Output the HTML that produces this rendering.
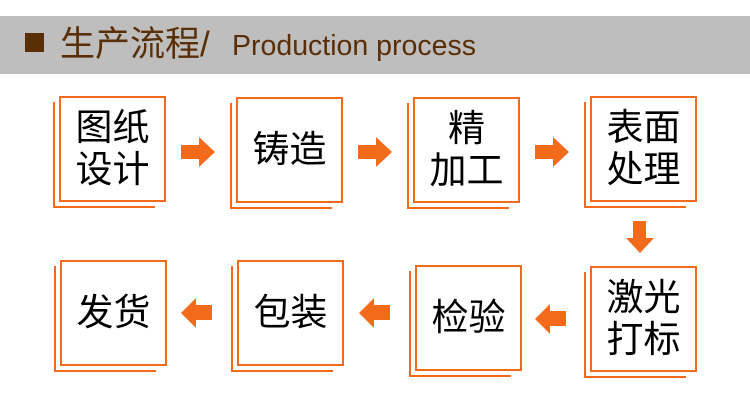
<!DOCTYPE html>
<html><head><meta charset="utf-8"><style>
body{margin:0;width:750px;height:406px;background:#fff;position:relative;overflow:hidden;font-family:"Liberation Sans","Noto Sans CJK SC",sans-serif}
.hd{position:absolute;left:0;top:16px;width:750px;height:58px;background:#bebebe}
.sq{position:absolute;left:25px;top:33px;width:19px;height:19px;background:#5a2e06}
.t1{position:absolute;left:60px;top:22px;font-size:35px;color:#5a2e06;line-height:46px}
.t2{position:absolute;left:232px;top:27px;font-size:28.5px;color:#5a2e06;line-height:38px}
.b{position:absolute;width:103px;height:102px;border:2px solid #f26b1a;background:#fff;display:flex;align-items:center;justify-content:center;text-align:center;font-size:37px;line-height:42px;color:#000}
.s{position:absolute;border-left:2px solid #f26b1a;border-bottom:2px solid #f26b1a;width:100px;height:104px}
svg{position:absolute}
</style></head><body>
<div class="hd"></div><div class="sq"></div>
<div class="t1">生产流程/</div><div class="t2">Production process</div>

<div class="s" style="left:53px;top:102px"></div><div class="b" style="left:59px;top:96px">图纸<br>设计</div>
<div class="s" style="left:230px;top:103px"></div><div class="b" style="left:236px;top:97px">铸造</div>
<div class="s" style="left:407px;top:103px"></div><div class="b" style="left:413px;top:97px">精<br>加工</div>
<div class="s" style="left:584px;top:102px"></div><div class="b" style="left:590px;top:96px">表面<br>处理</div>

<div class="s" style="left:584px;top:272px"></div><div class="b" style="left:590px;top:266px">激光<br>打标</div>
<div class="s" style="left:409px;top:271px"></div><div class="b" style="left:415px;top:265px">检验</div>
<div class="s" style="left:231px;top:266px"></div><div class="b" style="left:237px;top:260px">包装</div>
<div class="s" style="left:54px;top:266px"></div><div class="b" style="left:60px;top:260px">发货</div>

<svg width="750" height="406" style="left:0;top:0">
<g fill="#f26b1a">
<polygon points="181,145 199,145 199,137 215,152 199,167 199,159 181,159"/>
<polygon points="358,145 376,145 376,137 392,152 376,167 376,159 358,159"/>
<polygon points="535,145 553,145 553,137 569,152 553,167 553,159 535,159"/>
<polygon points="633,221 646,221 646,238 654,238 640,253 626,238 633,238"/>
<polygon points="566,311 550,311 550,304 535,319 550,334 550,326 566,326"/>
<polygon points="390,305 374,305 374,298 359,313 374,328 374,320 390,320"/>
<polygon points="212,305 196,305 196,298 181,313 196,328 196,320 212,320"/>
</g></svg>
</body></html>
